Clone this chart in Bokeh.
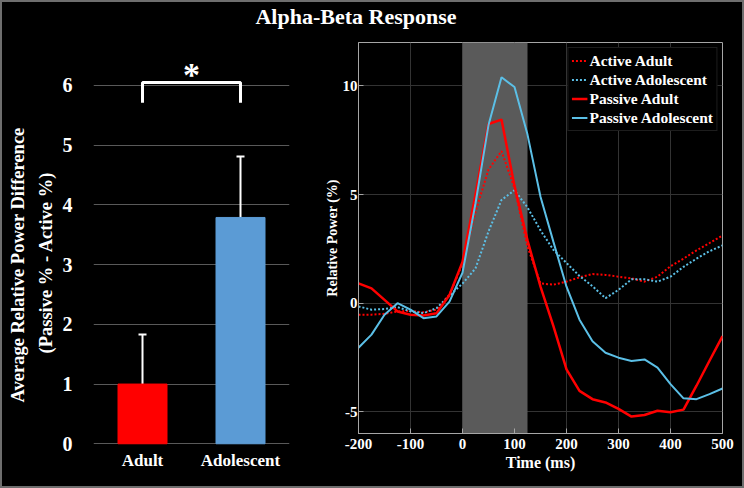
import math
from bokeh.plotting import figure
from bokeh.models import (Range1d, FixedTicker, Whisker, TeeHead, Label, BoxAnnotation,
                          ColumnDataSource, Div, Legend, LegendItem, Title)
from bokeh.layouts import column, row
from bokeh.embed import file_html
from bokeh.resources import INLINE

# ---------------- data ----------------
groups = ["Adult", "Adolescent"]
group_pos = [0.5, 1.5]
mean_diff = [1.0, 3.79]
err_diff = [0.83, 1.02]
bar_colors = ["#ff0000", "#5b9bd5"]
bracket_x = [0.5, 0.5, 1.5, 1.5]
bracket_y = [5.71, 6.05, 6.05, 5.71]
left_ticks = [0, 1, 2, 3, 4, 5, 6]

time_ms = [-200, -175, -150, -125, -100, -75, -50, -25, 0, 25, 50, 75, 100, 125, 150,
           175, 200, 225, 250, 275, 300, 325, 350, 375, 400, 425, 450, 475, 500]
active_adult = [-0.53, -0.53, -0.49, -0.38, -0.35, -0.42, -0.3, 0.4, 1.8, 4.2, 6.15, 7.0, 5.3,
                2.6, 0.91, 0.85, 0.99, 1.19, 1.34, 1.3, 1.22, 1.14, 0.99, 1.22, 1.7, 2.05,
                2.43, 2.77, 3.12]
active_adol = [-0.15, -0.3, -0.27, -0.18, -0.38, -0.46, -0.23, 0.35, 0.9, 1.6, 3.3, 4.75, 5.2,
               4.41, 3.35, 2.45, 1.85, 1.25, 0.78, 0.23, 0.61, 1.1, 1.1, 0.99, 1.22, 1.67,
               2.05, 2.39, 2.66]
passive_adult = [0.91, 0.68, 0.15, -0.38, -0.53, -0.57, -0.46, 0.38, 1.9, 5.0, 8.25, 8.45, 5.4,
                 2.89, 0.76, -1.07, -3.05, -4.04, -4.42, -4.57, -4.87, -5.22, -5.15, -4.95,
                 -5.02, -4.9, -3.8, -2.65, -1.52]
passive_adol = [-2.05, -1.45, -0.53, 0.0, -0.3, -0.69, -0.61, 0.07, 1.4, 4.6, 8.2, 10.4, 9.95,
                7.76, 4.9, 2.81, 0.76, -0.76, -1.75, -2.28, -2.51, -2.66, -2.59, -2.97, -3.73,
                -4.38, -4.42, -4.19, -3.93]
stim_window = [0, 125]
x_lim = [-200, 500]
y_lim = [-6, 12]
x_ticks = [-200, -100, 0, 100, 200, 300, 400, 500]
y_ticks = [-5, 0, 5, 10]

FONT = "Liberation Serif"
RED = "#ff0000"
BLUE = "#5bbfe6"
GRAY = "#a6a6a6"

# ---------------- left: bar chart ----------------
p1 = figure(width=320, height=458, x_range=Range1d(0, 2), y_range=Range1d(-0.096, 6.72),
            output_backend="svg", toolbar_location=None,
            min_border_left=93, min_border_right=31, min_border_top=12, min_border_bottom=39)
p1.background_fill_color = "black"
p1.border_fill_color = "black"
p1.outline_line_color = None

src1 = ColumnDataSource(dict(x=group_pos, top=mean_diff, color=bar_colors,
                             upper=[m + e for m, e in zip(mean_diff, err_diff)]))
p1.vbar(x="x", top="top", bottom=0, width=0.5, color="color", source=src1)
p1.add_layout(Whisker(base="x", lower="top", upper="upper", source=src1,
                      line_color="white", line_width=2, lower_head=None,
                      upper_head=TeeHead(size=8, line_color="white", line_width=2)))
p1.line(bracket_x, bracket_y, line_color="white", line_width=3)
p1.add_layout(Label(x=1.0, y=6.18, text="*", text_color="white", text_font=FONT,
                    text_font_style="bold", text_font_size="34px", text_align="center",
                    text_baseline="alphabetic"))

p1.xaxis.ticker = FixedTicker(ticks=group_pos)
p1.xaxis.major_label_overrides = {pos: g for pos, g in zip(group_pos, groups)}
p1.yaxis.ticker = FixedTicker(ticks=left_ticks)
for ax in (p1.xaxis[0], p1.yaxis[0]):
    ax.axis_line_color = None
    ax.major_tick_line_color = None
    ax.major_tick_out = 0
    ax.major_tick_in = 0
    ax.minor_tick_line_color = None
    ax.major_label_text_color = "white"
    ax.major_label_text_font = FONT
    ax.major_label_text_font_style = "bold"
p1.xaxis.major_label_text_font_size = "17px"
p1.xaxis.major_label_standoff = 1
p1.yaxis.major_label_text_font_size = "20px"
p1.yaxis.major_label_standoff = 21
p1.xgrid.grid_line_color = None
p1.ygrid.ticker = FixedTicker(ticks=left_ticks)
p1.ygrid.grid_line_color = "#595959"
p1.ygrid.grid_line_width = 1

for txt, off, so in (("(Passive % - Active %)", 96, 8),
                     ("Average Relative Power Difference", 47, 3)):
    p1.add_layout(Title(text=txt, align="left", offset=off, standoff=so,
                        text_color="white", text_font=FONT, text_font_style="bold",
                        text_font_size="18.5px"), "left")

# ---------------- right: time course ----------------
p2 = figure(width=424, height=458, x_range=Range1d(*x_lim), y_range=Range1d(*y_lim),
            output_backend="svg", toolbar_location=None,
            min_border_left=38, min_border_right=22, min_border_top=12, min_border_bottom=55)
p2.background_fill_color = "black"
p2.border_fill_color = "black"
p2.outline_line_color = GRAY

for fig in (p1, p2):
    try:
        fig.frame_align = False
    except Exception:
        pass

p2.add_layout(BoxAnnotation(left=stim_window[0], right=stim_window[1],
                            fill_color="#5a5a5a", fill_alpha=1, line_color=None,
                            level="underlay"))

r_aa = p2.line(time_ms, active_adult, line_color=RED, line_width=2, line_dash="2 2")
r_ad = p2.line(time_ms, active_adol, line_color=BLUE, line_width=2, line_dash="2 2")
r_pa = p2.line(time_ms, passive_adult, line_color=RED, line_width=2.5)
r_pd = p2.line(time_ms, passive_adol, line_color=BLUE, line_width=2)

legend = Legend(items=[LegendItem(label="Active Adult", renderers=[r_aa]),
                       LegendItem(label="Active Adolescent", renderers=[r_ad]),
                       LegendItem(label="Passive Adult", renderers=[r_pa]),
                       LegendItem(label="Passive Adolescent", renderers=[r_pd])],
                location="top_right")
p2.add_layout(legend)
legend.background_fill_color = "black"
legend.background_fill_alpha = 1
legend.border_line_color = "#3a3a3a"
legend.label_text_color = "white"
legend.label_text_font = FONT
legend.label_text_font_style = "bold"
legend.label_text_font_size = "15.5px"
legend.glyph_width = 16
legend.glyph_height = 19
legend.label_height = 19
legend.label_standoff = 2
legend.spacing = 0
legend.padding = 3
legend.margin = 5

p2.xaxis.ticker = FixedTicker(ticks=x_ticks)
p2.yaxis.ticker = FixedTicker(ticks=y_ticks)
p2.xaxis.major_label_overrides = {t: str(t) for t in x_ticks}
p2.yaxis.major_label_overrides = {t: str(t) for t in y_ticks}
for ax in (p2.xaxis[0], p2.yaxis[0]):
    ax.axis_line_color = GRAY
    ax.major_tick_line_color = GRAY
    ax.major_tick_in = 5
    ax.major_tick_out = 0
    ax.minor_tick_line_color = None
    ax.major_label_text_color = "white"
    ax.major_label_text_font = FONT
    ax.major_label_text_font_style = "bold"
    ax.major_label_text_font_size = "15px"
    ax.axis_label_text_color = "white"
    ax.axis_label_text_font = FONT
    ax.axis_label_text_font_style = "bold"
p2.xaxis.axis_label = "Time (ms)"
p2.xaxis.axis_label_text_font_size = "16px"
p2.xaxis.major_label_standoff = 5
p2.xaxis.axis_label_standoff = 2
p2.yaxis.axis_label = "Relative Power (%)"
p2.yaxis.axis_label_text_font_size = "14px"
p2.yaxis.major_label_standoff = 1
p2.yaxis.axis_label_standoff = 0
p2.xgrid.ticker = FixedTicker(ticks=x_ticks)
p2.ygrid.ticker = FixedTicker(ticks=y_ticks)
p2.grid.grid_line_color = "#333333"
p2.grid.grid_line_width = 1

# ---------------- title + layout ----------------
title = Div(text='<div style="width:712px;text-align:center;color:white;'
                 'font-family:\'Liberation Serif\';font-weight:bold;font-size:22px;'
                 'line-height:22px;padding-top:6px;">Alpha-Beta Response</div>',
            width=744, height=30, margin=0, styles={"background-color": "black"})

layout = column(title, row(p1, p2, spacing=0), spacing=0)

html = file_html(layout, INLINE, title="Alpha-Beta Response")
html = html.replace(
    "</head>",
    "<style>html,body{background:#000;}"
    "body::after{content:'';position:fixed;left:0;top:0;right:0;bottom:0;"
    "border:2px solid #6e6e6e;pointer-events:none;box-sizing:border-box;}</style></head>", 1)
open("out.html", "w").write(html)
